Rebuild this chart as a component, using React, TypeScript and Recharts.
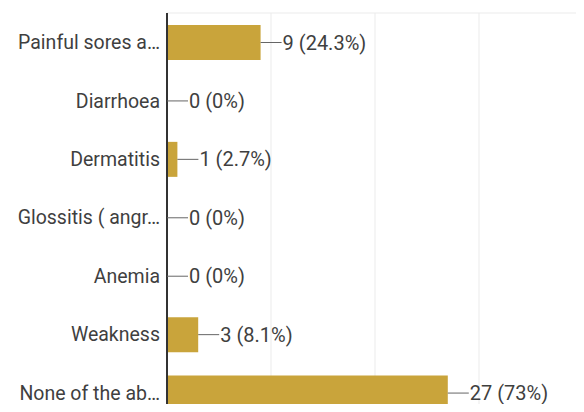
import { BarChart, Bar, XAxis, YAxis, CartesianGrid, LabelList } from 'recharts';

const categories = [
  'Painful sores a…',
  'Diarrhoea',
  'Dermatitis',
  'Glossitis ( angr…',
  'Anemia',
  'Weakness',
  'None of the ab…',
];
const counts = [9, 0, 1, 0, 0, 3, 27];
const percents = ['24.3%', '0%', '2.7%', '0%', '0%', '8.1%', '73%'];
const xTicks = [0, 10, 20, 30, 40];

const BAR_COLOR = '#C9A43B';
const TEXT_COLOR = '#3F3F3F';
const FONT = 'Roboto, "Noto Sans", sans-serif';

const data = categories.map((name, i) => ({
  name,
  count: counts[i],
  label: `${counts[i]} (${percents[i]})`,
}));

// short leader line from the bar end, then "n (p%)"
function LeaderLabel(props: any) {
  const { x, y, width, height, value } = props;
  const endX = Number(x) + Number(width);
  const cy = Number(y) + Number(height) / 2;
  return (
    <g>
      <line x1={endX} y1={cy} x2={endX + 21} y2={cy} stroke="#666" strokeWidth={1} />
      <text
        x={endX + 22}
        y={cy}
        dy="0.35em"
        fill={TEXT_COLOR}
        fontSize={20}
        fontFamily={FONT}
      >
        {value}
      </text>
    </g>
  );
}

export default function App() {
  return (
    <div style={{ margin: -8, width: 584, height: 412, overflow: 'hidden', background: '#fff' }}>
      <BarChart
        width={584}
        height={422}
        data={data}
        layout="vertical"
        margin={{ top: 13, right: 1, left: 0, bottom: 0 }}
      >
        <CartesianGrid
          stroke="#EBEBEB"
          horizontalCoordinatesGenerator={({ offset }: any) => [offset.top]}
        />
        <XAxis type="number" domain={[0, 40]} ticks={xTicks} hide />
        <YAxis
          type="category"
          dataKey="name"
          width={167}
          tickLine={false}
          axisLine={{ stroke: '#333', strokeWidth: 2 }}
          tickMargin={1}
          tick={{ fill: TEXT_COLOR, fontSize: 19.5, fontFamily: FONT }}
          interval={0}
        />
        <Bar
          dataKey="count"
          fill={BAR_COLOR}
          barSize={35}
          minPointSize={0.01}
          isAnimationActive={false}
        >
          <LabelList dataKey="label" content={<LeaderLabel />} />
        </Bar>
      </BarChart>
    </div>
  );
}
